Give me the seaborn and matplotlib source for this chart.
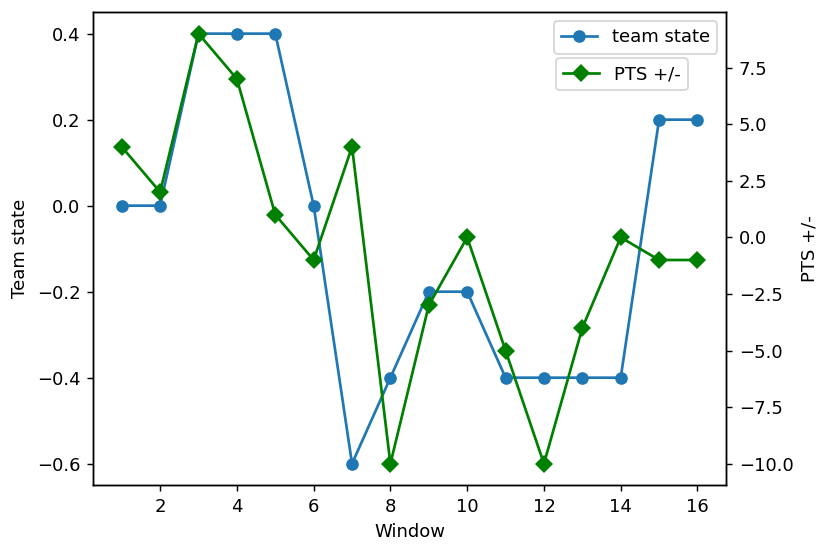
import matplotlib
matplotlib.use('Agg')
import matplotlib.pyplot as plt
import seaborn as sns
import pandas as pd

windows = list(range(1, 17))
team_state = [0, 0, 0.4, 0.4, 0.4, 0, -0.6, -0.4, -0.2, -0.2, -0.4, -0.4, -0.4, -0.4, 0.2, 0.2]
pts_diff = [4, 2, 9, 7, 1, -1, 4, -10, -3, 0, -5, -10, -4, 0, -1, -1]

df = pd.DataFrame({'Window': windows, 'team state': team_state, 'PTS +/-': pts_diff})

fig, ax = plt.subplots(figsize=(830 / 130, 552 / 130), dpi=130)
fig.subplots_adjust(left=0.112, right=0.875, top=0.978, bottom=0.121)

sns.lineplot(data=df, x='Window', y='team state', marker='o', markersize=7,
             markeredgewidth=0, color='#1f77b4', label='team state', ax=ax)
ax.set_ylabel('Team state')
ax.set_xlabel('Window')
ax.set_xticks([2, 4, 6, 8, 10, 12, 14, 16])
ax.legend(loc='upper right')

ax2 = ax.twinx()
sns.lineplot(data=df, x='Window', y='PTS +/-', marker='D', markersize=7,
             markeredgewidth=0, color='green', label='PTS +/-', ax=ax2)
ax2.set_ylabel('PTS +/-')
ax2.legend(loc='upper left', bbox_to_anchor=(0.731, 0.903), borderaxespad=0)

plt.savefig('out.png', dpi=130)
